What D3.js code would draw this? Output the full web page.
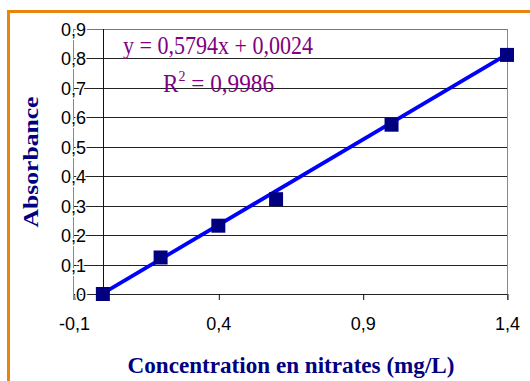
<!DOCTYPE html>
<html><head><meta charset="utf-8">
<script src="https://cdn.jsdelivr.net/npm/d3@7"></script>
<style>body{margin:0;background:#fff}svg{display:block}</style>
</head><body>
<script>
const concentrations = [0, 0.2, 0.4, 0.6, 1.0, 1.4];
const absorbances = [0, 0.124, 0.232, 0.322, 0.575, 0.812];
const xTicks = [-0.1, 0.4, 0.9, 1.4];
const yTicks = [0, 0.1, 0.2, 0.3, 0.4, 0.5, 0.6, 0.7, 0.8, 0.9];
const slope = 0.5794, intercept = 0.0024;
const equationText = "y = 0,5794x + 0,0024";
const r2Text = "0,9986";
const xTitle = "Concentration en nitrates (mg/L)";
const yTitle = "Absorbance";

const W = 530, H = 381;
const svg = d3.select("body").append("svg").attr("width", W).attr("height", H);
const fmt = v => (Math.abs(v) < 1e-9 ? "0" : v.toFixed(1).replace(".", ","));

// orange frame (only top & left visible)
svg.append("path").attr("d", `M8.5,${H} V11.5 H${W}`).attr("fill", "none")
  .attr("stroke", "#e8850c").attr("stroke-width", 3);

const x = d3.scaleLinear().domain([-0.1, 1.4]).range([74, 507]);
const y = d3.scaleLinear().domain([0, 0.9]).range([294, 29]);

// gridlines
svg.append("g").selectAll("line").data(yTicks).join("line")
  .attr("x1", x(-0.1)).attr("x2", x(1.4))
  .attr("y1", d => Math.round(y(d)) + 0.5).attr("y2", d => Math.round(y(d)) + 0.5)
  .attr("stroke", d => d === 0.9 ? "#777" : "#222").attr("stroke-width", 1);

// left axis (at x=-0.1) & right border
svg.append("line").attr("x1", 73.5).attr("x2", 73.5).attr("y1", y(0.9)).attr("y2", 300)
  .attr("stroke", "#888");
svg.append("line").attr("x1", 507.5).attr("x2", 507.5).attr("y1", y(0.9)).attr("y2", 300)
  .attr("stroke", "#888");
// y axis at x=0
svg.append("line").attr("x1", Math.round(x(0)) + 0.5).attr("x2", Math.round(x(0)) + 0.5)
  .attr("y1", y(0.9)).attr("y2", y(0)).attr("stroke", "#111");

// x axis ticks & labels
const xAxis = d3.axisBottom(x).tickValues(xTicks).tickSize(6).tickFormat(fmt);
const gx = svg.append("g").attr("transform", `translate(0,${y(0)})`).call(xAxis);
gx.select(".domain").remove();
gx.selectAll(".tick line").attr("stroke", "#111").attr("transform", "translate(0.5,0)");
gx.selectAll(".tick text").attr("font-family", "Liberation Sans, Arial, sans-serif")
  .attr("font-size", 18).attr("fill", "#000").attr("y", 36).attr("dy", 0);

// y axis labels
const yAxis = d3.axisLeft(y).tickValues(yTicks).tickSize(0).tickFormat(fmt);
const gy = svg.append("g").attr("transform", `translate(86,0)`).call(yAxis);
gy.select(".domain").remove();
gy.selectAll(".tick text").attr("font-family", "Liberation Sans, Arial, sans-serif")
  .attr("font-size", 18).attr("fill", "#000").attr("x", 0).attr("dy", "0.36em")
  .attr("stroke", "#fff").attr("stroke-width", 3).attr("paint-order", "stroke");

// trendline
const xs = [0, 1.4];
svg.append("line")
  .attr("x1", x(xs[0])).attr("y1", y(slope * xs[0] + intercept))
  .attr("x2", x(xs[1])).attr("y2", y(slope * xs[1] + intercept))
  .attr("stroke", "#0000ff").attr("stroke-width", 3.8);

// markers
const ms = 14;
svg.append("g").selectAll("rect").data(concentrations).join("rect")
  .attr("x", (d) => x(d) - ms / 2).attr("y", (d, i) => y(absorbances[i]) - ms / 2)
  .attr("width", ms).attr("height", ms).attr("fill", "#000080");

// equation
const serif = "Liberation Serif, Times New Roman, serif";
svg.append("text").attr("x", 123).attr("y", 54).attr("font-family", serif)
  .attr("font-size", 25).attr("fill", "#800080")
  .attr("textLength", 190).attr("lengthAdjust", "spacingAndGlyphs").text(equationText);
const r2 = svg.append("text").attr("x", 163).attr("y", 92).attr("font-family", serif)
  .attr("font-size", 25).attr("fill", "#800080")
  .attr("textLength", 111).attr("lengthAdjust", "spacingAndGlyphs");
r2.append("tspan").text("R");
r2.append("tspan").attr("dy", -11).attr("font-size", 15).text("2");
r2.append("tspan").attr("dy", 11).text(" = " + r2Text);

// titles
svg.append("text").attr("transform", "translate(38,162) rotate(-90)")
  .attr("text-anchor", "middle").attr("font-family", serif).attr("font-weight", "bold")
  .attr("font-size", 22).attr("fill", "#000080")
  .attr("textLength", 131).attr("lengthAdjust", "spacingAndGlyphs").text(yTitle);
svg.append("text").attr("x", 291).attr("y", 373)
  .attr("text-anchor", "middle").attr("font-family", serif).attr("font-weight", "bold")
  .attr("font-size", 23.5).attr("fill", "#000080")
  .attr("textLength", 327).attr("lengthAdjust", "spacingAndGlyphs").text(xTitle);
</script>
</body></html>
